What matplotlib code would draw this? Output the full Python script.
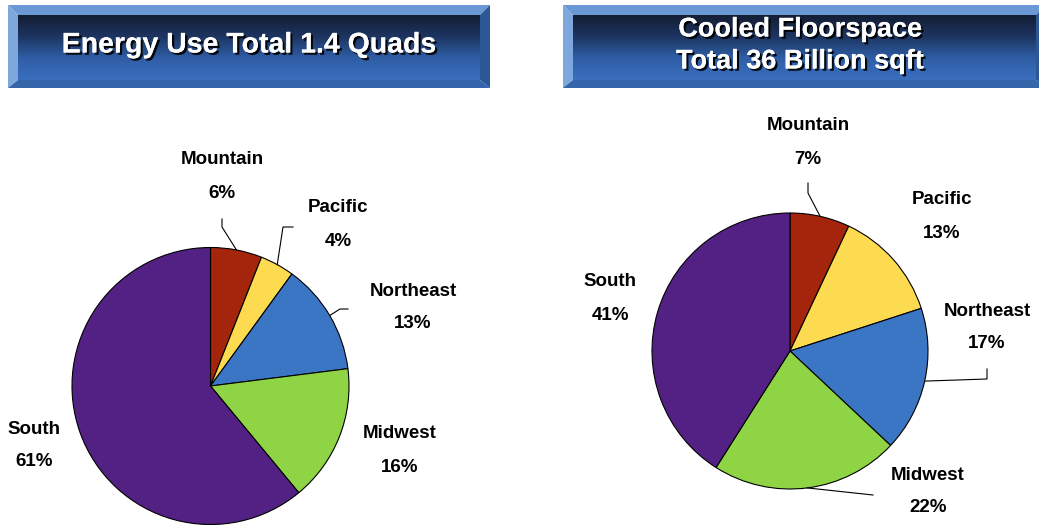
import numpy as np
import matplotlib.pyplot as plt
import matplotlib.patheffects as pe
from matplotlib.patches import Polygon
from matplotlib.colors import LinearSegmentedColormap

regions = ["Mountain", "Pacific", "Northeast", "Midwest", "South"]
energy_pct = [6, 4, 13, 16, 61]
floor_pct = [7, 13, 17, 22, 41]
colors = ["#A5240C", "#FCDB51", "#3B76C5", "#8FD445", "#532183"]

energy_title = "Energy Use Total 1.4 Quads"
floor_title = "Cooled Floorspace\nTotal 36 Billion sqft"

W, H = 1039, 525
plt.rcParams["font.family"] = ["Liberation Sans", "DejaVu Sans"]

fig = plt.figure(figsize=(W / 100, H / 100), dpi=100)
ax = fig.add_axes([0, 0, 1, 1])


def py(y):
    # pixel rows from the top -> data y
    return H - y


def title_box(x0, x1, y0, y1, bevel, text, size, tx=None):
    top, bot = py(y0), py(y1)
    bl = bevel
    bb = bevel - 2
    ix0, ix1, itop, ibot = x0 + bl, x1 - bl, top - bl, bot + bb
    # bevel faces
    ax.add_patch(Polygon([(x0, top), (x1, top), (ix1, itop), (ix0, itop)],
                         closed=True, fc="#6A98D5", ec="none", zorder=1))
    ax.add_patch(Polygon([(x0, top), (ix0, itop), (ix0, ibot), (x0, bot)],
                         closed=True, fc="#7DA7DD", ec="none", zorder=1))
    ax.add_patch(Polygon([(x1, top), (x1, bot), (ix1, ibot), (ix1, itop)],
                         closed=True, fc="#2C5794", ec="none", zorder=1))
    ax.add_patch(Polygon([(x0, bot), (ix0, ibot), (ix1, ibot), (x1, bot)],
                         closed=True, fc="#3465AA", ec="none", zorder=1))
    # gradient face
    cmap = LinearSegmentedColormap.from_list(
        "face", ["#3A6FBE", "#2F5EA6", "#1D3561", "#141D33"])
    grad = np.linspace(0, 1, 256).reshape(-1, 1)
    ax.imshow(grad, cmap=cmap, aspect="auto", origin="lower",
              extent=(ix0, ix1, ibot, itop), zorder=1.5)
    if tx is None:
        tx = (x0 + x1) / 2
    ax.text(tx, (top + bot) / 2 + 1, text, ha="center", va="center",
            color="white", fontsize=size, fontweight="bold", linespacing=1.3,
            zorder=3,
            path_effects=[pe.withSimplePatchShadow(offset=(1.6, -1.6),
                                                   shadow_rgbFace="black",
                                                   alpha=0.9),
                          pe.Normal()])


def pie_with_labels(vals, cx, cy, r, label_pos, leaders):
    wedges, _ = ax.pie(vals, colors=colors, startangle=90, counterclock=False,
                       center=(cx, py(cy)), radius=r,
                       wedgeprops=dict(edgecolor="black", linewidth=0.8))
    for i, (name, v) in enumerate(zip(regions, vals)):
        lx, ly = label_pos[name]
        ax.text(lx, py(ly), name, ha="center", va="center", fontsize=13.5,
                fontweight="bold", color="black", zorder=4)
        ax.text(lx, py(ly + 33), f"{v}%", ha="center", va="center",
                fontsize=13.5, fontweight="bold", color="black", zorder=4)
        if name in leaders:
            w = wedges[i]
            mid = np.deg2rad((w.theta1 + w.theta2) / 2)
            sx, sy = cx + r * np.cos(mid), py(cy) + r * np.sin(mid)
            pts = [(sx, sy)] + [(x, py(y)) for x, y in leaders[name]]
            xs, ys = zip(*pts)
            ax.plot(xs, ys, color="black", lw=0.8, zorder=3)


title_box(8, 490, 5, 88, 10, energy_title, 20.5)
title_box(563, 1046, 5, 88, 10, floor_title, 19.5, tx=800)

pie_with_labels(
    energy_pct, 210.5, 386, 138.5,
    {"Mountain": (222, 160), "Pacific": (338, 208), "Northeast": (413, 291),
     "Midwest": (400, 434), "South": (34, 429)},
    {"Mountain": [(222, 227), (222, 219)],
     "Pacific": [(283, 227), (293, 227)],
     "Northeast": [(340, 309), (348, 309)]})

pie_with_labels(
    floor_pct, 790, 351, 138,
    {"Mountain": (808, 126), "Pacific": (942, 200), "Northeast": (987, 311),
     "Midwest": (928, 475), "South": (610, 282)},
    {"Mountain": [(808, 193), (808, 183)],
     "Northeast": [(987, 379), (987, 369)],
     "Midwest": [(873, 495)]})

ax.set_xlim(0, W)
ax.set_ylim(0, H)
ax.set_aspect("auto")
ax.axis("off")

fig.savefig("out.png", dpi=100, facecolor="white")
